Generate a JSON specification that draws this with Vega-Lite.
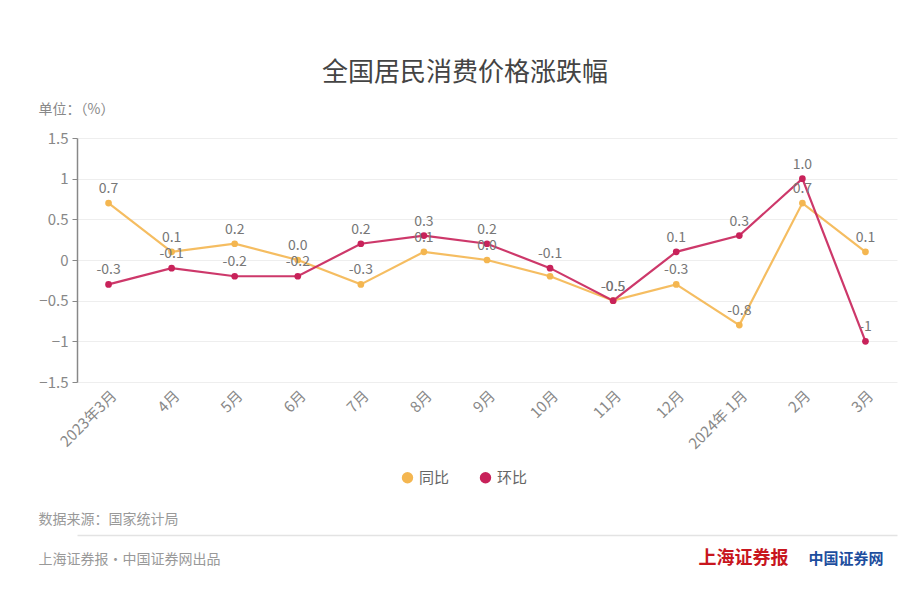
{
  "$schema": "https://vega.github.io/schema/vega-lite/v6.json",
  "width": 820,
  "height": 244,
  "autosize": {"type": "none"},
  "padding": {"left": 77, "top": 138, "right": 26, "bottom": 224},
  "background": "white",
  "config": {"font": "Noto Sans CJK SC", "view": {"stroke": null}},
  "title": {"text": "全国居民消费价格涨跌幅", "anchor": "middle", "frame": "group", "fontSize": 26, "fontWeight": "normal", "color": "#444444", "dx": -22, "offset": 16},
  "data": {"values": [
    {"month": "2023年3月", "series": "同比", "value": 0.7, "label": "0.7"},
    {"month": "4月", "series": "同比", "value": 0.1, "label": "0.1"},
    {"month": "5月", "series": "同比", "value": 0.2, "label": "0.2"},
    {"month": "6月", "series": "同比", "value": 0.0, "label": "0.0"},
    {"month": "7月", "series": "同比", "value": -0.3, "label": "-0.3"},
    {"month": "8月", "series": "同比", "value": 0.1, "label": "0.1"},
    {"month": "9月", "series": "同比", "value": 0.0, "label": "0.0"},
    {"month": "10月", "series": "同比", "value": -0.2, "label": ""},
    {"month": "11月", "series": "同比", "value": -0.5, "label": "-0.5"},
    {"month": "12月", "series": "同比", "value": -0.3, "label": "-0.3"},
    {"month": "2024年 1月", "series": "同比", "value": -0.8, "label": "-0.8"},
    {"month": "2月", "series": "同比", "value": 0.7, "label": "0.7"},
    {"month": "3月", "series": "同比", "value": 0.1, "label": "0.1"},
    {"month": "2023年3月", "series": "环比", "value": -0.3, "label": "-0.3"},
    {"month": "4月", "series": "环比", "value": -0.1, "label": "-0.1"},
    {"month": "5月", "series": "环比", "value": -0.2, "label": "-0.2"},
    {"month": "6月", "series": "环比", "value": -0.2, "label": "-0.2"},
    {"month": "7月", "series": "环比", "value": 0.2, "label": "0.2"},
    {"month": "8月", "series": "环比", "value": 0.3, "label": "0.3"},
    {"month": "9月", "series": "环比", "value": 0.2, "label": "0.2"},
    {"month": "10月", "series": "环比", "value": -0.1, "label": "-0.1"},
    {"month": "11月", "series": "环比", "value": -0.5, "label": "-0.5"},
    {"month": "12月", "series": "环比", "value": 0.1, "label": "0.1"},
    {"month": "2024年 1月", "series": "环比", "value": 0.3, "label": "0.3"},
    {"month": "2月", "series": "环比", "value": 1.0, "label": "1.0"},
    {"month": "3月", "series": "环比", "value": -1, "label": "-1"}
  ]},
  "layer": [
    {
      "mark": {"type": "line", "strokeWidth": 2.2, "opacity": 0.9},
      "encoding": {
        "x": {"field": "month", "type": "nominal", "sort": null,
          "scale": {"type": "point", "padding": 0.5},
          "axis": {"title": ["数据来源：国家统计局", "上海证券报·中国证券网出品"], "titleX": -39, "titleY": 141, "titleAlign": "left", "titleAnchor": "start", "titleBaseline": "alphabetic", "titleLineHeight": 40, "titleFontSize": 14, "titleColor": "#999999", "titleFontWeight": "normal",
            "labelAngle": -45, "labelFontSize": 15, "labelColor": "#888888", "ticks": false, "domain": false, "grid": false, "labelPadding": 6}},
        "y": {"field": "value", "type": "quantitative",
          "scale": {"domain": [-1.5, 1.5], "nice": false, "zero": false},
          "axis": {"title": "单位：（%）", "titleAngle": 0, "titleAlign": "left", "titleAnchor": "start", "titleBaseline": "middle", "titleX": -39, "titleY": -29, "titleFontSize": 14, "titleFontWeight": "normal", "titleColor": "#888888",
            "values": [-1.5, -1, -0.5, 0, 0.5, 1, 1.5], "format": "~g", "labelFontSize": 15, "labelColor": "#888888", "domainColor": "#888888", "domainWidth": 1.5, "tickColor": "#888888", "tickSize": 5, "gridColor": "#eeeeee", "labelPadding": 4}},
        "color": {"field": "series", "type": "nominal", "scale": {"domain": ["同比", "环比"], "range": ["#f4b650", "#c8225a"]},
          "legend": {"orient": "none", "legendX": 323, "legendY": 332, "direction": "horizontal", "title": null, "symbolType": "circle", "symbolSize": 130, "symbolStrokeWidth": 0, "symbolOpacity": 1, "labelFontSize": 15, "labelColor": "#666666", "columnPadding": 28}}
      }
    },
    {
      "mark": {"type": "point", "filled": true, "size": 45, "opacity": 1},
      "encoding": {
        "x": {"field": "month", "type": "nominal", "sort": null, "axis": null},
        "y": {"field": "value", "type": "quantitative", "axis": null},
        "color": {"field": "series", "type": "nominal",
          "legend": {"orient": "none", "legendX": 323, "legendY": 332, "direction": "horizontal", "title": null, "symbolType": "circle", "symbolSize": 130, "symbolStrokeWidth": 0, "symbolOpacity": 1, "labelFontSize": 15, "labelColor": "#666666", "columnPadding": 28}}
      }
    },
    {
      "mark": {"type": "text", "dy": -14, "fontSize": 14, "color": "#777777"},
      "encoding": {
        "x": {"field": "month", "type": "nominal", "sort": null,
          "axis": {"orient": "bottom", "offset": 153, "labels": false, "ticks": false, "grid": false, "domain": true, "domainColor": "#e3e3e3", "domainWidth": 1.5,
            "title": "上海证券报", "titleColor": "#c8161e", "titleFontSize": 18, "titleFontWeight": "bold", "titleX": 621, "titleY": 28, "titleAlign": "left", "titleAnchor": "start", "titleBaseline": "alphabetic"}},
        "y": {"field": "value", "type": "quantitative",
          "axis": {"orient": "right", "labels": false, "ticks": false, "grid": false, "domain": false,
            "title": "中国证券网", "titleAngle": 0, "titleX": -89, "titleY": 425, "titleColor": "#1d4e9e", "titleFontSize": 15, "titleFontWeight": "bold", "titleAlign": "left", "titleAnchor": "start", "titleBaseline": "alphabetic"}},
        "text": {"field": "label", "type": "nominal"}
      }
    }
  ],
  "resolve": {"axis": {"x": "independent", "y": "independent"}}
}
